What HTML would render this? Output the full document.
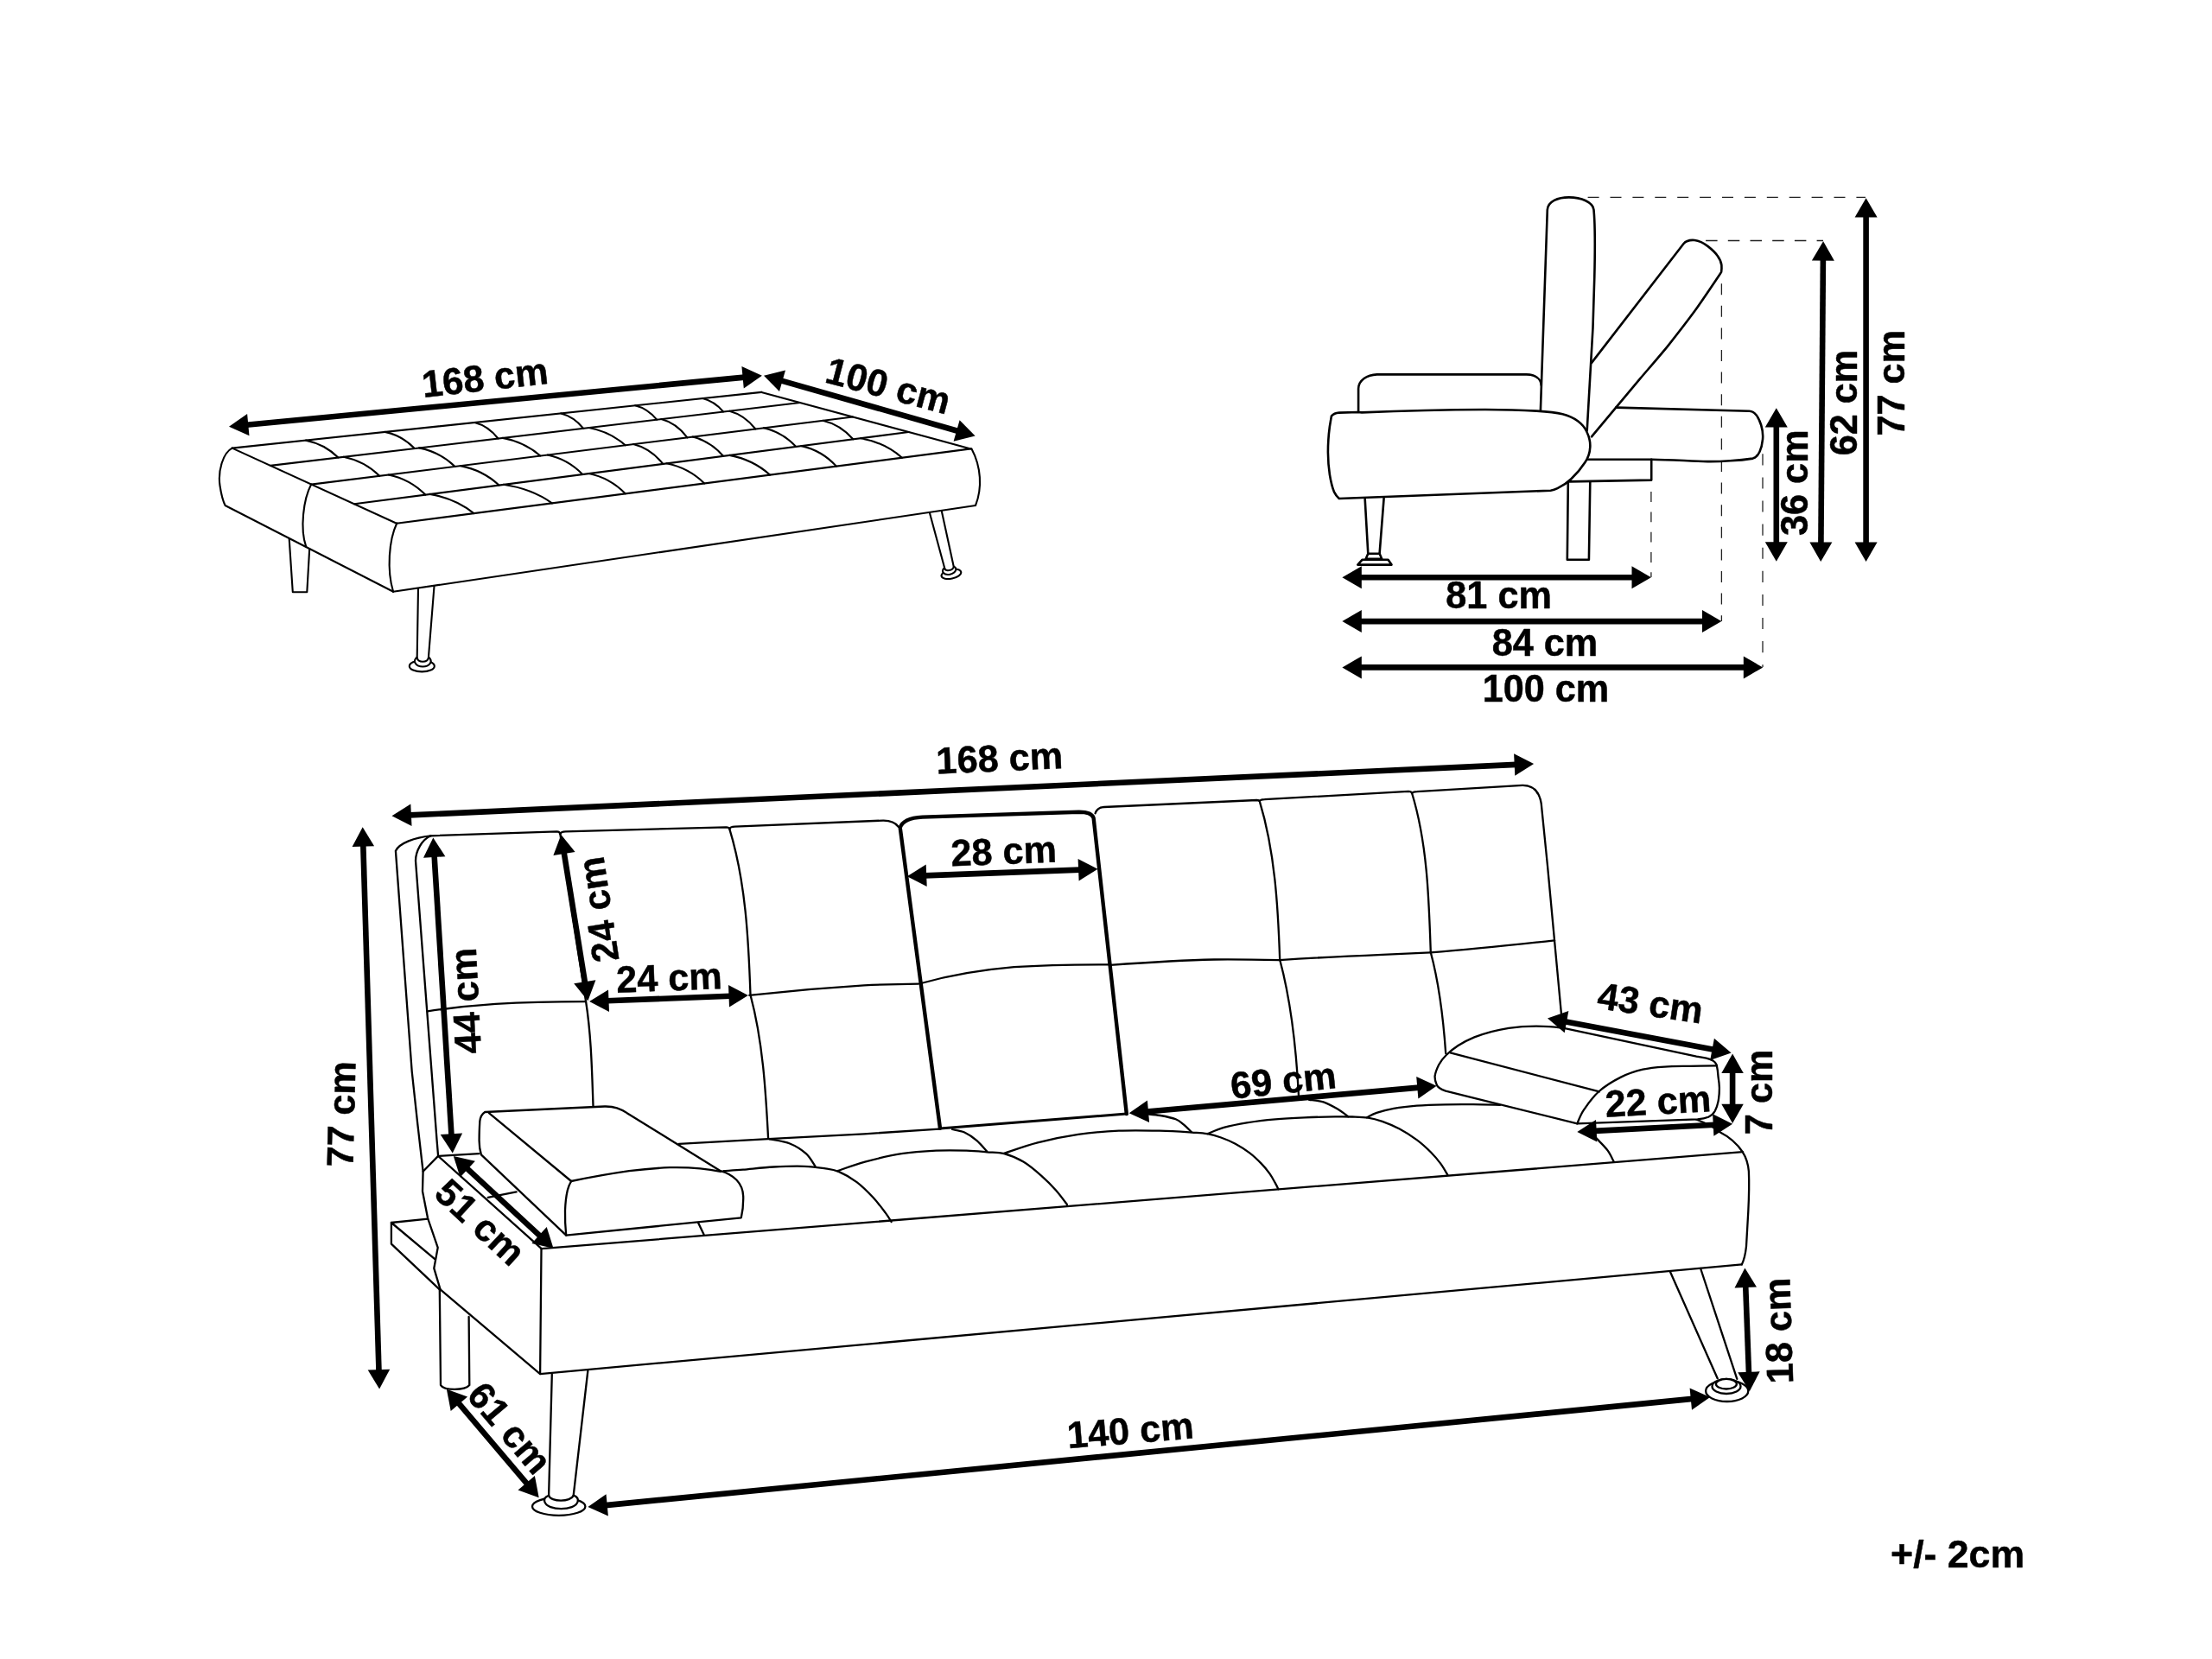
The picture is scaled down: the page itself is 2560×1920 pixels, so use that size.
<!DOCTYPE html>
<html><head><meta charset="utf-8"><title>Sofa bed dimensions</title>
<style>
html,body{margin:0;padding:0;background:#fff;}
body{width:2560px;height:1920px;overflow:hidden;}
svg{display:block;will-change:transform;}
text{font-family:"Liberation Sans",sans-serif;font-weight:bold;fill:#000;stroke:#000;stroke-width:0.5px;stroke-linejoin:round;}
path,line,ellipse{stroke-linecap:round;stroke-linejoin:round;}
line{stroke-linecap:butt;}
</style></head><body>
<svg width="2560" height="1920" viewBox="0 0 2560 1920">
<rect width="2560" height="1920" fill="#fff"/>
<!-- bed view -->
<path d="M334.7 623.6 L338.8 685.2 L355.3 685.2 L358.2 635.1" fill="none" stroke="#000" stroke-width="2.1"/>
<path d="M484 681 L482.7 761.1" fill="none" stroke="#000" stroke-width="2.1"/>
<path d="M502.5 678.5 L495.9 761.1" fill="none" stroke="#000" stroke-width="2.1"/>
<ellipse cx="488.3" cy="770.9" rx="14.5" ry="6.5" transform="rotate(0 488.3 770.9)" fill="#fff" stroke="#000" stroke-width="2.1"/>
<path d="M482.3 760.8 C479.8 763 479.3 766 481 768 C484 772.6 494.5 772.6 497.6 768 C499.2 766 498.6 763 496.4 760.8" fill="#fff" stroke="#000" stroke-width="2.1"/>
<path d="M482.7 761.1 C483.5 767.2 495 767.2 495.9 761.1" fill="#fff" stroke="#000" stroke-width="2.1"/>
<path d="M1075.9 593.4 L1093.3 657.8" fill="none" stroke="#000" stroke-width="2.1"/>
<path d="M1089.8 591.5 L1103.8 656" fill="none" stroke="#000" stroke-width="2.1"/>
<ellipse cx="1100.9" cy="664.4" rx="11.6" ry="5.2" transform="rotate(-12 1100.9 664.4)" fill="#fff" stroke="#000" stroke-width="2.1"/>
<path d="M1092.9 657.4 C1090.5 659.5 1090.6 661.5 1091.8 662.8 C1095 666.8 1104.5 665 1106.3 659.5 C1106.8 658 1106 656.8 1104.3 655.8" fill="#fff" stroke="#000" stroke-width="2.1"/>
<path d="M1093.3 657.8 C1094.5 661.8 1102.5 660.5 1103.8 656" fill="#fff" stroke="#000" stroke-width="2.1"/>
<path d="M268.7 518.6 C258 524 252 545 254.5 562 C256 572 258 580 260.6 585 L455.1 684.8" fill="none" stroke="#000" stroke-width="2.1"/>
<path d="M360.2 560.6 C351 578 347 612 354.2 632.7" fill="none" stroke="#000" stroke-width="2.1"/>
<path d="M459.3 605.5 C450 625 447.5 660 455.1 684.8" fill="none" stroke="#000" stroke-width="2.1"/>
<path d="M455.1 684.8 L1129 585" fill="none" stroke="#000" stroke-width="2.1"/>
<path d="M1124.5 519.4 C1135.5 540 1137 565 1129 585" fill="none" stroke="#000" stroke-width="2.1"/>
<path d="M268.7 518.6 L881.3 453.9" fill="none" stroke="#000" stroke-width="2.1"/>
<path d="M313 538.9 L925.9 466" fill="none" stroke="#000" stroke-width="2.1"/>
<path d="M360.4 560.6 L986.9 482.5" fill="none" stroke="#000" stroke-width="2.1"/>
<path d="M410 583.3 L1051.6 500" fill="none" stroke="#000" stroke-width="2.1"/>
<path d="M459 605.7 L1123.5 519.4" fill="none" stroke="#000" stroke-width="2.1"/>
<path d="M268.7 518.6 L459 605.7" fill="none" stroke="#000" stroke-width="2.1"/>
<path d="M881.3 453.9 L1123.5 519.4" fill="none" stroke="#000" stroke-width="2.1"/>
<path d="M354 509.6 Q375.7 514 391.4 529.5" fill="none" stroke="#000" stroke-width="2.1"/>
<path d="M397.6 528.8 Q421.7 533.6 439.2 550.8" fill="none" stroke="#000" stroke-width="2.1"/>
<path d="M449.6 549.5 Q474.4 554.5 492.3 572.6" fill="none" stroke="#000" stroke-width="2.1"/>
<path d="M497.5 571.9 Q527 576.8 548.4 594.1" fill="none" stroke="#000" stroke-width="2.1"/>
<path d="M445.5 499.9 Q465.4 504.1 479.8 519" fill="none" stroke="#000" stroke-width="2.1"/>
<path d="M485 518.4 Q509.1 523.1 526.6 539.9" fill="none" stroke="#000" stroke-width="2.1"/>
<path d="M532.8 539.1 Q558.7 544 577.5 561.5" fill="none" stroke="#000" stroke-width="2.1"/>
<path d="M582.7 560.8 Q615.3 565.6 638.9 582.3" fill="none" stroke="#000" stroke-width="2.1"/>
<path d="M549.4 489 Q565.1 493 576.5 507.5" fill="none" stroke="#000" stroke-width="2.1"/>
<path d="M581.7 506.9 Q607 511.4 625.3 527.5" fill="none" stroke="#000" stroke-width="2.1"/>
<path d="M633.7 526.5 Q657.2 531.4 674.2 549" fill="none" stroke="#000" stroke-width="2.1"/>
<path d="M681.5 548 Q706 553.1 723.7 571.3" fill="none" stroke="#000" stroke-width="2.1"/>
<path d="M649.3 478.4 Q664.3 482.2 675.2 495.8" fill="none" stroke="#000" stroke-width="2.1"/>
<path d="M681.5 495 Q706 499.5 723.7 515.3" fill="none" stroke="#000" stroke-width="2.1"/>
<path d="M733 514.1 Q752.9 519.1 767.3 536.9" fill="none" stroke="#000" stroke-width="2.1"/>
<path d="M771.5 536.3 Q796.8 541.4 815.2 559.4" fill="none" stroke="#000" stroke-width="2.1"/>
<path d="M735.1 469.3 Q749.6 472.9 760.1 485.7" fill="none" stroke="#000" stroke-width="2.1"/>
<path d="M765.3 485.1 Q782.8 489.7 795.4 506.3" fill="none" stroke="#000" stroke-width="2.1"/>
<path d="M801.6 505.6 Q822.1 510.5 837 527.8" fill="none" stroke="#000" stroke-width="2.1"/>
<path d="M844.3 526.9 Q871.4 531.9 891.1 549.6" fill="none" stroke="#000" stroke-width="2.1"/>
<path d="M813.1 461.1 Q827 464.5 837 476.5" fill="none" stroke="#000" stroke-width="2.1"/>
<path d="M844.3 475.7 Q861.8 480.3 874.4 496.5" fill="none" stroke="#000" stroke-width="2.1"/>
<path d="M883.8 495.3 Q905.5 500.1 921.2 516.9" fill="none" stroke="#000" stroke-width="2.1"/>
<path d="M927.5 516.1 Q951 521.3 968 539.6" fill="none" stroke="#000" stroke-width="2.1"/>
<path d="M952.4 486.8 Q972.6 491.5 987.3 508.3" fill="none" stroke="#000" stroke-width="2.1"/>
<path d="M996.1 507.2 Q1023.8 512.1 1043.9 529.7" fill="none" stroke="#000" stroke-width="2.1"/>
<polygon points="265,493.7 288.5,504.3 286.1,478.9"/>
<polygon points="881.9,434.7 860.8,449.5 858.4,424.1"/>
<line x1="285.3" y1="491.8" x2="861.6" y2="436.6" stroke="#000" stroke-width="6.6"/>
<polygon points="884,434.7 902,453.1 909,428.6"/>
<polygon points="1128.6,504.6 1103.6,510.7 1110.6,486.2"/>
<line x1="903.6" y1="440.3" x2="1109" y2="499" stroke="#000" stroke-width="6.6"/>
<text transform="translate(561.1 436.9) rotate(-6.4) scale(0.994 1)" x="0" y="15.1" font-size="43.5" text-anchor="middle">168 cm</text>
<text transform="translate(1028.1 446.2) rotate(14.9) scale(0.994 1)" x="0" y="15.1" font-size="43.5" text-anchor="middle">100 cm</text>
<!-- side view -->
<line x1="1837.6" y1="228.4" x2="2159" y2="228.4" stroke="#222" stroke-width="1.3" stroke-dasharray="13 12.9"/>
<line x1="1974.1" y1="278.5" x2="2110" y2="278.5" stroke="#222" stroke-width="1.3" stroke-dasharray="13.5 12.2"/>
<line x1="1910.9" y1="569.1" x2="1910.9" y2="668" stroke="#222" stroke-width="1.3" stroke-dasharray="11.9 11.4"/>
<line x1="1992.4" y1="328.2" x2="1992.4" y2="719" stroke="#222" stroke-width="1.3" stroke-dasharray="13 12.6"/>
<line x1="2040" y1="525.3" x2="2040" y2="772" stroke="#222" stroke-width="1.3" stroke-dasharray="13.1 14"/>
<path d="M1870.2 471.6 L2024.6 475.8 C2030 476 2035 482 2038.2 492 C2040 498 2040.6 503 2040 508.7 C2039.5 514 2038.5 518.5 2036.5 522.7 C2034.5 527 2032 529.8 2028.6 530.6 C2020 532 2011 532.8 2002.4 533.2 C1993 533.9 1985 534.2 1976.2 534.1 C1955 533.5 1933 532 1911.5 531.7 L1837.3 531.7" fill="none" stroke="#000" stroke-width="2.6"/>
<path d="M1911.2 531.7 L1911.2 555.6 L1816.4 557.4" fill="none" stroke="#000" stroke-width="2.6"/>
<path d="M1814.8 558.1 L1813.8 647.7 L1838.9 647.7 L1840.3 557.2" fill="none" stroke="#000" stroke-width="2.6"/>
<path d="M1842 419.9 L1948.5 282 C1951 279 1956 277.6 1961.1 278 C1967 278.6 1972 281.5 1976.7 285.1 C1981 288.5 1985 292 1987.7 296.1 C1990.5 300 1992 303.5 1992.4 307 C1992.6 310 1992.5 312.5 1992.1 314.9 C1982 330 1972 345 1961.1 360.3 C1951 374 1940.5 387.5 1929.7 401.1 C1919.5 413.5 1909 425.5 1898.4 437.9 L1870.2 471.6 L1842 505.3" fill="none" stroke="#000" stroke-width="2.6"/>
<path d="M1782.9 475.5 L1790.8 242.8 C1791.5 233 1803 228.4 1815.7 228.4 C1830 228.4 1843.5 234 1844.5 242.8 C1846.3 262 1846 290 1845.3 320 L1843.5 379 L1836.7 498.5" fill="none" stroke="#000" stroke-width="2.6"/>
<path d="M1572.1 476.6 L1572.1 449.7 C1572.5 440 1582 433.8 1593.6 433.4 L1766.7 433.4 C1777 433.6 1783.2 438.5 1783.8 446" fill="none" stroke="#000" stroke-width="2.6"/>
<path d="M1579.7 577.6 L1583.3 640.7" fill="none" stroke="#000" stroke-width="2.6"/>
<path d="M1601.6 576.6 L1596.6 640.7" fill="none" stroke="#000" stroke-width="2.6"/>
<path d="M1583.3 640.7 L1596.6 640.7 L1599.2 646.7 L1580.7 646.7 Z" fill="none" stroke="#000" stroke-width="2.6"/>
<path d="M1576.7 647.7 L1606.5 647.7 L1610.5 653.6 L1571.3 653.6 Z" fill="none" stroke="#000" stroke-width="2.6"/>
<path d="M1540.9 481.6 C1543 479 1546 477.8 1549.8 477.6 L1572 477 L1576 477.4 C1620 475.6 1680 474.2 1718.9 474 C1745 474 1765 474.8 1778.6 475.6 C1792 476.4 1801 477.4 1808.4 479.2 C1816 481 1821.5 483.8 1826.3 487.5 C1831 491 1834.5 495.5 1836.3 499.5 C1839.5 506 1840.6 512 1840.3 517.4 C1840 524 1838 530 1834.3 535.3 C1830 542 1824.5 548.5 1818.4 554.2 C1813 559.5 1808 562.5 1802.5 565.1 C1800 566.4 1797.5 567.3 1794.5 567.7 L1549.8 577 C1547 574.5 1545.3 572 1543.9 569.1 C1541.5 563 1540 556 1538.9 549.2 C1537.6 541 1537 532 1536.9 523.3 C1536.9 513 1537.6 503 1538.9 493.5 Z" fill="#fff" stroke="#000" stroke-width="2.6"/>
<polygon points="1553.4,668.2 1575.8,681.2 1575.8,655.2"/>
<polygon points="1910.9,668.2 1888.5,681.2 1888.5,655.2"/>
<line x1="1573.8" y1="668.2" x2="1890.5" y2="668.2" stroke="#000" stroke-width="6.6"/>
<polygon points="1553.4,719.1 1575.8,732.1 1575.8,706.1"/>
<polygon points="1992.4,719.1 1970,732.1 1970,706.1"/>
<line x1="1573.8" y1="719.1" x2="1972" y2="719.1" stroke="#000" stroke-width="6.6"/>
<polygon points="1553.4,772.4 1575.8,785.4 1575.8,759.4"/>
<polygon points="2040.2,772.4 2017.8,785.4 2017.8,759.4"/>
<line x1="1573.8" y1="772.4" x2="2019.8" y2="772.4" stroke="#000" stroke-width="6.6"/>
<polygon points="2055.8,472.2 2042.8,494.6 2068.8,494.6"/>
<polygon points="2055.8,649.7 2042.8,627.3 2068.8,627.3"/>
<line x1="2055.8" y1="492.6" x2="2055.8" y2="629.3" stroke="#000" stroke-width="6.6"/>
<polygon points="2110.1,279.2 2096.9,301.5 2122.9,301.7"/>
<polygon points="2107.2,649.9 2094.4,627.4 2120.4,627.6"/>
<line x1="2109.9" y1="299.6" x2="2107.4" y2="629.5" stroke="#000" stroke-width="6.6"/>
<polygon points="2159.6,229.2 2146.6,251.6 2172.6,251.6"/>
<polygon points="2159.6,649.9 2146.6,627.5 2172.6,627.5"/>
<line x1="2159.6" y1="249.6" x2="2159.6" y2="629.5" stroke="#000" stroke-width="6.6"/>
<text transform="translate(1734.6 689.1) rotate(0) scale(0.994 1)" x="0" y="15.1" font-size="43.5" text-anchor="middle">81 cm</text>
<text transform="translate(1788 743.5) rotate(0) scale(0.994 1)" x="0" y="15.1" font-size="43.5" text-anchor="middle">84 cm</text>
<text transform="translate(1789 797.2) rotate(0) scale(0.994 1)" x="0" y="15.1" font-size="43.5" text-anchor="middle">100 cm</text>
<text transform="translate(2076.6 558.7) rotate(-90) scale(0.994 1)" x="0" y="15.1" font-size="43.5" text-anchor="middle">36 cm</text>
<text transform="translate(2133.6 466) rotate(-90) scale(0.994 1)" x="0" y="15.1" font-size="43.5" text-anchor="middle">62 cm</text>
<text transform="translate(2188.5 443.2) rotate(-90) scale(0.994 1)" x="0" y="15.1" font-size="43.5" text-anchor="middle">77 cm</text>
<!-- main sofa -->
<path d="M508.8 1492.4 L510 1603.1 C514 1609.5 538 1609.5 543.3 1603.1 L542.6 1524" fill="none" stroke="#000" stroke-width="2.3"/>
<path d="M638.8 1590.4 L635.1 1730.7" fill="none" stroke="#000" stroke-width="2.3"/>
<path d="M680.4 1586 L663.7 1730.7" fill="none" stroke="#000" stroke-width="2.3"/>
<ellipse cx="646.7" cy="1743.4" rx="30.7" ry="10.4" transform="rotate(0 646.7 1743.4)" fill="#fff" stroke="#000" stroke-width="2.3"/>
<path d="M635.1 1730.7 C631 1732.3 629.4 1735 630.3 1738 C633.5 1748.8 665.5 1748.8 668.6 1738 C669.5 1735 668 1732.3 663.7 1730.7" fill="#fff" stroke="#000" stroke-width="2.3"/>
<path d="M635.1 1730.7 C637 1738.5 661 1738.5 663.7 1730.7" fill="#fff" stroke="#000" stroke-width="2.3"/>
<path d="M1932.8 1471.5 L1987.7 1595.3" fill="none" stroke="#000" stroke-width="2.3"/>
<path d="M1968.1 1468 L2010.3 1595.9" fill="none" stroke="#000" stroke-width="2.3"/>
<ellipse cx="1998.7" cy="1609.8" rx="24.6" ry="12.2" transform="rotate(0 1998.7 1609.8)" fill="#fff" stroke="#000" stroke-width="2.3"/>
<ellipse cx="1998" cy="1604.5" rx="16.5" ry="8.5" transform="rotate(0 1998 1604.5)" fill="#fff" stroke="#000" stroke-width="2.3"/>
<ellipse cx="1997.9" cy="1601.7" rx="12" ry="5.8" transform="rotate(0 1997.9 1601.7)" fill="#fff" stroke="#000" stroke-width="2.3"/>
<path d="M495.1 1410.7 L452.9 1415 L452.9 1439.6 L508.8 1492.4" fill="none" stroke="#000" stroke-width="2.3"/>
<path d="M452.9 1415 L503.8 1457.7" fill="none" stroke="#000" stroke-width="2.3"/>
<path d="M498.4 967.3 C480 969 462 976 457.9 984.7 L476.7 1240 L483.2 1300 L489.6 1355.7 L489 1378.8 L495.1 1410 L506.7 1443.9 L502.3 1467.8 L509.6 1492.4" fill="none" stroke="#000" stroke-width="2.3"/>
<path d="M498.4 967.3 C488 972 481 985 481 996.2 L505.6 1320 L507.1 1337.9" fill="none" stroke="#000" stroke-width="2.3"/>
<path d="M489.6 1355.7 L507.1 1337.9" fill="none" stroke="#000" stroke-width="2.3"/>
<path d="M498.4 967.3 L644.5 962.3 C646.8 962.3 648 963.2 648.3 965" fill="none" stroke="#000" stroke-width="2.3"/>
<path d="M648.3 965 C649 963 651.5 962.4 654.5 962.3 L840.5 957.3 C842.5 957.3 843.8 957.9 844.3 959.3" fill="none" stroke="#000" stroke-width="2.3"/>
<path d="M844.3 959.3 C845 957.3 847.5 956.8 850.5 956.7 L1022.1 949.6 C1030 949.5 1036 951.7 1039.7 956.7" fill="none" stroke="#000" stroke-width="2.3"/>
<path d="M1267.6 941.3 C1269 936.5 1273 934.3 1277.8 934 L1454.5 926 C1456.5 926 1457.5 926.4 1457.8 927.3" fill="none" stroke="#000" stroke-width="2.3"/>
<path d="M1457.8 927.3 C1458.4 925.8 1460.5 925.3 1463.5 925.2 L1630 915.9 C1632.3 915.9 1633.6 916.6 1634.1 918" fill="none" stroke="#000" stroke-width="2.3"/>
<path d="M1634.1 918 C1634.8 916.5 1637 916.2 1640 916.1 L1762 908.9 C1775 908.7 1781.5 917 1783.7 929.7 L1791 1002 L1806.9 1172.8" fill="none" stroke="#000" stroke-width="2.3"/>
<path d="M648.3 965 L678 1158.5 C684.3 1198.2 685.1 1239.8 686.5 1280" fill="none" stroke="#000" stroke-width="2.3"/>
<path d="M844.3 959.3 C863 1020.4 866.3 1087.6 868.5 1151.5 C882.8 1204.9 886.2 1262.4 889.1 1317.6" fill="none" stroke="#000" stroke-width="2.3"/>
<path d="M1457.8 927.3 C1475.6 985.7 1479.1 1049.8 1481.2 1110.8 C1494.8 1161.5 1500.3 1215.8 1503 1268.2" fill="none" stroke="#000" stroke-width="2.3"/>
<path d="M1634.1 918 C1652 976.5 1653.7 1041 1655.8 1102.2 C1665.9 1139.8 1670.5 1180.1 1673.2 1219" fill="none" stroke="#000" stroke-width="2.3"/>
<path d="M494.9 1170.4 C520 1166.5 548 1163.5 573.6 1161.8 C610 1159.8 645 1159.2 677.8 1159.1" fill="none" stroke="#000" stroke-width="2.3"/>
<path d="M867.3 1151.9 C910 1147 955 1143 1000 1140.3 C1022 1139.3 1043 1138.8 1063.1 1138.6" fill="none" stroke="#000" stroke-width="2.3"/>
<path d="M1066 1138 C1100 1128.5 1137 1122.3 1173.6 1119.2 C1210 1116.8 1247 1116.3 1283.6 1116.3" fill="none" stroke="#000" stroke-width="2.3"/>
<path d="M1285 1116.9 C1325 1114 1365 1111.3 1405.1 1110.5 C1430 1110.2 1455 1110.6 1480.9 1111.1" fill="none" stroke="#000" stroke-width="2.3"/>
<path d="M1480.9 1111.1 C1520 1108.5 1560 1106.5 1600 1104.8 L1655.6 1102.4" fill="none" stroke="#000" stroke-width="2.3"/>
<path d="M1655.6 1102.4 C1705 1098.5 1752 1093.5 1799.1 1088.3" fill="none" stroke="#000" stroke-width="2.3"/>
<path d="M507.1 1337.9 L554.4 1335.2" fill="none" stroke="#000" stroke-width="2.3"/>
<path d="M785.7 1323.9 L889.1 1318.1 L1000 1312.3 L1086.8 1306.6" fill="none" stroke="#000" stroke-width="2.3"/>
<path d="M507.1 1337.9 L626.7 1445.1" fill="none" stroke="#000" stroke-width="2.3"/>
<path d="M626.7 1445.1 L2016.7 1333.2" fill="none" stroke="#000" stroke-width="2.3"/>
<path d="M626.5 1445.4 L625.1 1590.1" fill="none" stroke="#000" stroke-width="2.3"/>
<path d="M509.6 1492.4 L625.1 1590.1 L2015.8 1463.4" fill="none" stroke="#000" stroke-width="2.3"/>
<path d="M2016.7 1333.2 C2021 1340 2023.3 1348 2023.9 1355.7 C2024.6 1372 2024 1388 2023.3 1402 L2021 1442.5 C2020 1452 2018.5 1458 2015.8 1463.4" fill="none" stroke="#000" stroke-width="2.3"/>
<path d="M1961.7 1295 C1975 1300 1984 1305 1989.2 1309.4 C2002 1316 2011 1324 2016.7 1333.2" fill="none" stroke="#000" stroke-width="2.3"/>
<path d="M564.7 1385.8 L597.6 1379.4" fill="none" stroke="#000" stroke-width="2.3"/>
<path d="M890.6 1318.3 C894.5 1319.2 907.1 1320.7 914.1 1323.5 C921.1 1326.3 928 1330.8 932.9 1335.2 C937.8 1339.6 941.7 1347.4 943.5 1349.8" fill="none" stroke="#000" stroke-width="2.3"/>
<path d="M837.4 1355.2 C841.2 1354.9 850.4 1354.4 860 1353.6 C869.6 1352.8 883.5 1351.1 895.3 1350.5 C907 1349.9 920.7 1349.5 930.5 1349.8 C940.3 1350.1 947.3 1351.1 954 1352.1 C960.7 1353.1 964.2 1353.2 970.5 1355.9 C976.8 1358.6 985 1363.1 991.6 1368.1 C998.2 1373.1 1004.9 1379.9 1010.4 1385.8 C1015.9 1391.7 1021.1 1398.7 1024.6 1403.4 C1028.1 1408.1 1030.4 1412.2 1031.6 1414" fill="none" stroke="#000" stroke-width="2.3"/>
<path d="M1102.1 1307 C1104.4 1307.6 1111.5 1308.3 1116.2 1310.5 C1120.9 1312.7 1126 1316.2 1130.3 1319.9 C1134.6 1323.6 1140.1 1330.3 1142.1 1332.4" fill="none" stroke="#000" stroke-width="2.3"/>
<path d="M969.3 1355.2 C974.6 1353.4 988.6 1347.9 1001 1344.6 C1013.4 1341.3 1029.7 1337.3 1043.4 1335.2 C1057.1 1333.1 1070.8 1332.3 1083.3 1331.7 C1095.8 1331.1 1108.8 1331.4 1118.6 1331.7 C1128.4 1332 1134.8 1332.7 1142.1 1333.3 C1149.3 1333.9 1155 1333.3 1162.1 1335.2 C1169.1 1337.1 1177.2 1340.3 1184.4 1344.6 C1191.7 1348.9 1199.3 1355.6 1205.6 1361.1 C1211.9 1366.6 1217.1 1372 1222 1377.5 C1226.9 1383 1232.8 1391.2 1234.9 1394" fill="none" stroke="#000" stroke-width="2.3"/>
<path d="M1327 1289.2 C1329.7 1289.5 1337.4 1290 1343 1291 C1348.6 1292 1356.3 1293.6 1360.7 1295.3 C1365.1 1297 1366.4 1298.6 1369.4 1301.1 C1372.4 1303.5 1377.2 1308.5 1378.8 1310" fill="none" stroke="#000" stroke-width="2.3"/>
<path d="M1162.1 1334.8 C1168.6 1332.7 1186.6 1325.9 1200.9 1322.3 C1215.2 1318.7 1232.2 1315.2 1247.9 1312.9 C1263.6 1310.6 1279.2 1309.4 1294.9 1308.7 C1310.6 1308 1327.8 1308.4 1341.9 1308.7 C1356 1309 1370.1 1310 1379.3 1310.6 C1388.5 1311.2 1391.6 1311.2 1397.2 1312.2 C1402.8 1313.2 1407.7 1314.6 1413.1 1316.5 C1418.5 1318.4 1424.2 1320.8 1429.7 1323.8 C1435.2 1326.8 1441.3 1330.6 1446.3 1334.4 C1451.3 1338.2 1455.6 1342.4 1459.5 1346.4 C1463.4 1350.4 1466.7 1354.4 1469.5 1358.3 C1472.3 1362.2 1474.4 1366.6 1476.1 1369.6 C1477.8 1372.6 1478.9 1375.1 1479.4 1376.2" fill="none" stroke="#000" stroke-width="2.3"/>
<path d="M1515.2 1272.9 C1517.9 1273.3 1526.1 1273.5 1531.6 1275.3 C1537.1 1277.1 1543.3 1280.7 1548.1 1283.5 C1552.9 1286.3 1558.3 1290.8 1560.3 1292.2" fill="none" stroke="#000" stroke-width="2.3"/>
<path d="M1397.2 1312.2 C1400.4 1311 1408.8 1307.1 1416.4 1304.9 C1424 1302.8 1433 1300.9 1442.9 1299.3 C1452.9 1297.7 1464.9 1296.3 1476.1 1295.3 C1487.3 1294.3 1498.5 1293.8 1510 1293.3 C1521.5 1292.8 1535.8 1292.5 1545 1292.4 C1554.2 1292.3 1558.6 1292.3 1565 1292.5 C1571.4 1292.7 1577.5 1292.7 1583.3 1293.6 C1589.1 1294.5 1593.7 1295.8 1599.8 1297.9 C1605.9 1300.1 1613.1 1303 1619.7 1306.5 C1626.3 1310 1633.5 1314.6 1639.6 1319.1 C1645.7 1323.6 1651.6 1329.1 1656.2 1333.7 C1660.8 1338.3 1664.2 1342.5 1667.4 1346.9 C1670.6 1351.3 1674.1 1357.7 1675.4 1359.9" fill="none" stroke="#000" stroke-width="2.3"/>
<path d="M1581.9 1293.2 C1583.8 1292.3 1588 1289.6 1593.2 1287.9 C1598.4 1286.2 1605.4 1284.3 1613.1 1282.9 C1620.8 1281.5 1629.7 1280.4 1639.6 1279.6 C1649.5 1278.8 1661.8 1278.5 1672.7 1278.3 C1683.6 1278.1 1694.4 1278.1 1705 1278.2 C1715.6 1278.3 1730.9 1278.7 1736.1 1278.8" fill="none" stroke="#000" stroke-width="2.3"/>
<path d="M1847.4 1317 C1847.9 1317.5 1847.9 1317.5 1850.1 1319.9 C1852.3 1322.4 1857.8 1327.6 1860.7 1331.7 C1863.7 1335.8 1866.6 1342.4 1867.8 1344.6" fill="none" stroke="#000" stroke-width="2.3"/>
<path d="M561.2 1287 L699.8 1280.5 C705 1280.4 710 1281 714 1282.3 C718.5 1283.8 722.5 1285.8 725.7 1288.2 L833.9 1355.2 C842 1357.5 848 1361 852.6 1365.8 C857.5 1371 860 1378 860.2 1384.6 C860.4 1393 859.5 1402 857.8 1409.3 L655.2 1429.7 L556.9 1336.4 C555 1330 554.5 1324 554.6 1318.8 C554.6 1311 555 1303 555.3 1297.6 C556 1292.5 558 1289 561.2 1287 Z" fill="#fff" stroke="#000" stroke-width="2.3"/>
<path d="M655.2 1429.7 C654.2 1420 653.8 1410 654 1401 C654.3 1392 655.3 1384 656.8 1377.5 C657.8 1373.5 659.3 1370 661.1 1367" fill="none" stroke="#000" stroke-width="2.3"/>
<path d="M661.1 1367 C683 1362.5 705 1358.5 728.1 1355.2 C744 1353.2 760 1351.8 775.1 1351.2 C787 1350.9 799 1351.3 810.3 1352.4 C818.5 1353.2 826.5 1354.4 833.9 1355.9" fill="none" stroke="#000" stroke-width="2.3"/>
<path d="M565.9 1288.2 L661.1 1367" fill="none" stroke="#000" stroke-width="2.3"/>
<path d="M808 1415.1 L814.6 1428.8" fill="none" stroke="#000" stroke-width="2.3"/>
<path d="M1088 1305.9 L1041.7 957.8 C1044 951 1053 946.4 1067.5 945.6 L1248.8 939.8 C1258 939.8 1264 942 1265.6 946.6 L1303.8 1289.1" fill="none" stroke="#000" stroke-width="4.4"/>
<path d="M1088 1305.9 L1303.8 1289.1" fill="none" stroke="#000" stroke-width="3"/>
<path d="M1673.8 1221 C1683 1212 1694 1205.5 1706.3 1200.4 C1719 1195.3 1732 1192 1746.1 1189.8 C1759 1188 1772 1187.4 1785.9 1187.8 C1795 1188 1803 1188.6 1811.1 1190.2 L1963.3 1222.6 C1968 1223.4 1971 1223.9 1974.7 1224.6 C1978 1225.4 1980.5 1226.4 1982.3 1227.4 C1984.5 1228.8 1986 1230.5 1986.7 1232.4 C1987.8 1237 1988.3 1242 1988.6 1246.6 C1989.3 1251 1989.8 1255 1989.9 1259.2 C1989.9 1264.5 1989.5 1269.5 1988.6 1274.4 C1987.8 1278.6 1986.5 1282.5 1984.8 1285.8 C1983 1289 1980.5 1291.3 1977.2 1292.8 C1973.5 1294.3 1969 1295 1964.6 1295.3 L1825.3 1300.4 L1673.2 1262.7 C1667 1260.5 1663.5 1258 1662.5 1254.8 C1661 1251.5 1660.5 1248.5 1660.6 1245.5 C1661.2 1241 1663 1236.5 1665.2 1232.2 C1667.5 1228 1670.5 1224.3 1673.8 1221 Z" fill="#fff" stroke="#000" stroke-width="2.3"/>
<path d="M1678.5 1218.3 L1850.9 1263.4" fill="none" stroke="#000" stroke-width="2.3"/>
<path d="M1825.3 1300.4 C1826.6 1297.8 1828.7 1290.8 1832.9 1284.6 C1837.1 1278.4 1843.4 1269.3 1850.6 1263 C1857.8 1256.7 1867.5 1250.8 1875.9 1246.6 C1884.4 1242.4 1892.8 1239.7 1901.3 1237.7 C1909.8 1235.7 1917.5 1235.2 1926.6 1234.6 C1935.7 1233.9 1946 1234 1956 1233.8 C1966 1233.6 1981.6 1233.4 1986.7 1233.3" fill="none" stroke="#000" stroke-width="2.3"/>
<!-- dimensions -->
<polygon points="453.5,944.3 476.5,956 475.3,930.5"/>
<polygon points="1775.1,884 1753.3,897.8 1752.1,872.3"/>
<line x1="473.9" y1="943.4" x2="1754.7" y2="884.9" stroke="#000" stroke-width="6.6"/>
<polygon points="419.7,957.2 407.6,980 433.1,979.2"/>
<polygon points="439.1,1607.5 425.7,1585.5 451.2,1584.7"/>
<line x1="420.3" y1="977.6" x2="438.5" y2="1587.1" stroke="#000" stroke-width="6.6"/>
<polygon points="501.3,969.6 490,992.7 515.4,991.2"/>
<polygon points="523.8,1334.5 509.7,1312.9 535.1,1311.4"/>
<line x1="502.6" y1="990" x2="522.5" y2="1314.1" stroke="#000" stroke-width="6.6"/>
<polygon points="649.4,965.9 640.4,990 665.6,986"/>
<polygon points="680.4,1158.3 664.2,1138.2 689.4,1134.2"/>
<line x1="652.6" y1="986" x2="677.2" y2="1138.2" stroke="#000" stroke-width="6.6"/>
<polygon points="682.1,1159.1 705,1171 704,1145.5"/>
<polygon points="865.9,1151.9 844,1165.5 843,1140"/>
<line x1="702.5" y1="1158.3" x2="845.5" y2="1152.7" stroke="#000" stroke-width="6.6"/>
<polygon points="1049.8,1014.2 1072.7,1026.1 1071.7,1000.6"/>
<polygon points="1270.5,1005.8 1248.6,1019.4 1247.6,993.9"/>
<line x1="1070.2" y1="1013.4" x2="1250.1" y2="1006.6" stroke="#000" stroke-width="6.6"/>
<polygon points="1306.7,1288.3 1330.1,1299 1327.9,1273.6"/>
<polygon points="1662.6,1256.8 1641.4,1271.5 1639.2,1246.1"/>
<line x1="1327" y1="1286.5" x2="1642.3" y2="1258.6" stroke="#000" stroke-width="6.6"/>
<polygon points="1791,1178.5 1810.7,1195.2 1815.4,1170.1"/>
<polygon points="2003.6,1218.5 1979.2,1226.9 1983.9,1201.8"/>
<line x1="1811" y1="1182.3" x2="1983.6" y2="1214.7" stroke="#000" stroke-width="6.6"/>
<polygon points="2005.1,1219.6 1992.3,1242 2017.8,1242"/>
<polygon points="2005.1,1300.1 1992.3,1277.7 2017.8,1277.7"/>
<line x1="2005.1" y1="1240" x2="2005.1" y2="1279.7" stroke="#000" stroke-width="6.6"/>
<polygon points="1825.3,1309.9 1848.3,1321.5 1847,1296"/>
<polygon points="2005.1,1300.8 1983.4,1314.7 1982.1,1289.2"/>
<line x1="1845.7" y1="1308.9" x2="1984.7" y2="1301.8" stroke="#000" stroke-width="6.6"/>
<polygon points="2019.4,1467.6 2007.5,1490.5 2033,1489.5"/>
<polygon points="2024.8,1610.2 2011.2,1588.3 2036.7,1587.3"/>
<line x1="2020.2" y1="1488" x2="2024" y2="1589.8" stroke="#000" stroke-width="6.6"/>
<polygon points="524.8,1337.9 532.6,1362.5 549.9,1343.7"/>
<polygon points="640.5,1444.7 615.4,1438.9 632.7,1420.1"/>
<line x1="539.8" y1="1351.7" x2="625.5" y2="1430.9" stroke="#000" stroke-width="6.6"/>
<polygon points="516.9,1607.7 521.7,1633 541.1,1616.5"/>
<polygon points="623.7,1733.3 599.5,1724.5 618.9,1708"/>
<line x1="530.1" y1="1623.2" x2="610.5" y2="1717.8" stroke="#000" stroke-width="6.6"/>
<polygon points="680.4,1744.1 703.9,1754.6 701.5,1729.2"/>
<polygon points="1979.1,1616.9 1958,1631.8 1955.6,1606.4"/>
<line x1="700.7" y1="1742.1" x2="1958.8" y2="1618.9" stroke="#000" stroke-width="6.6"/>
<text transform="translate(1156.7 877.3) rotate(-2.5) scale(0.994 1)" x="0" y="15.1" font-size="43.5" text-anchor="middle">168 cm</text>
<text transform="translate(394.9 1289.4) rotate(-88.5) scale(0.994 1)" x="0" y="15.1" font-size="43.5" text-anchor="middle">77 cm</text>
<text transform="translate(538.8 1158.3) rotate(-93) scale(0.994 1)" x="0" y="15.1" font-size="43.5" text-anchor="middle">44 cm</text>
<text transform="translate(692.5 1052.7) rotate(-98.6) scale(0.994 1)" x="0" y="15.1" font-size="43.5" text-anchor="middle">24 cm</text>
<text transform="translate(774.4 1131.3) rotate(-2.2) scale(0.994 1)" x="0" y="15.1" font-size="43.5" text-anchor="middle">24 cm</text>
<text transform="translate(1161.6 984.9) rotate(-2.2) scale(0.994 1)" x="0" y="15.1" font-size="43.5" text-anchor="middle">28 cm</text>
<text transform="translate(1485.2 1250.4) rotate(-5.9) scale(0.994 1)" x="0" y="15.1" font-size="43.5" text-anchor="middle">69 cm</text>
<text transform="translate(1910.2 1160.7) rotate(8.4) scale(0.994 1)" x="0" y="15.1" font-size="43.5" text-anchor="middle">43 cm</text>
<text transform="translate(1918.9 1274.4) rotate(-3.1) scale(0.994 1)" x="0" y="15.1" font-size="43.5" text-anchor="middle">22 cm</text>
<text transform="translate(2036 1263.9) rotate(-90) scale(0.994 1)" x="0" y="15.1" font-size="43.5" text-anchor="middle">7 cm</text>
<text transform="translate(2058.1 1540.1) rotate(-91.8) scale(0.994 1)" x="0" y="15.1" font-size="43.5" text-anchor="middle">18 cm</text>
<text transform="translate(555.9 1414.3) rotate(42.7) scale(0.994 1)" x="0" y="15.1" font-size="43.5" text-anchor="middle">51 cm</text>
<text transform="translate(590 1652.6) rotate(49.6) scale(0.994 1)" x="0" y="15.1" font-size="43.5" text-anchor="middle">61 cm</text>
<text transform="translate(1308.2 1655.3) rotate(-4.7) scale(0.994 1)" x="0" y="15.1" font-size="43.5" text-anchor="middle">140 cm</text>
<text transform="translate(2265.6 1799.1) rotate(0) scale(1.026 1)" x="0" y="15.1" font-size="43.5" text-anchor="middle">+/- 2cm</text>
</svg>
</body></html>
